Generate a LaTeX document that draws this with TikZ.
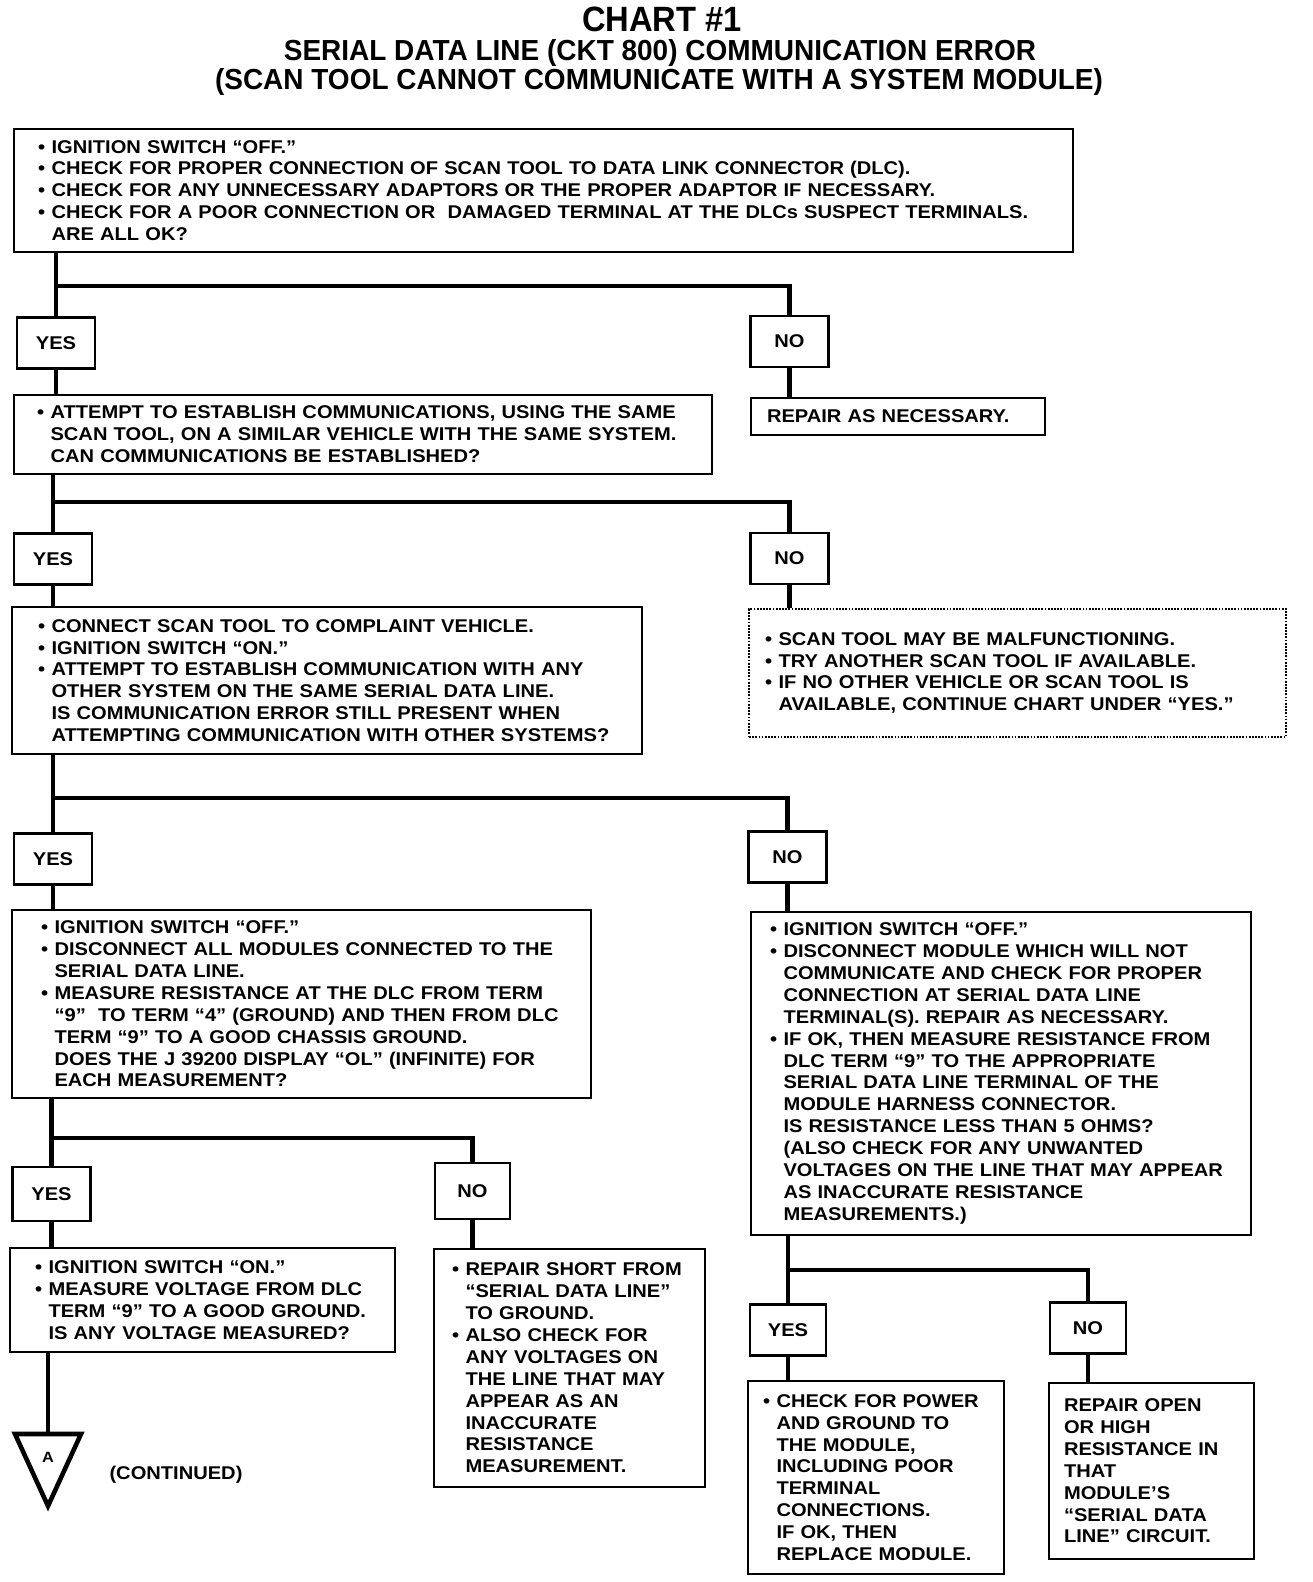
\documentclass[tikz,border=0pt]{standalone}
\usepackage{fontspec}
\setmainfont{Liberation Sans}
\newfontfamily\condfont[FakeStretch=0.93]{Liberation Sans}
\newfontfamily\subfont[FakeStretch=0.965]{Liberation Sans}
\newfontfamily\bodyfont[FakeStretch=1.09]{Liberation Sans}
\usetikzlibrary{positioning}

\newcommand{\bl}{\makebox[0.27cm][l]{\textbullet}}
\newcommand{\hg}{\hspace*{0.27cm}}

\begin{document}
\begin{tikzpicture}[x=0.02cm,y=-0.02cm,
    txt/.style={font=\bodyfont\fontsize{10.5}{12.45}\selectfont\bfseries},
    box/.style={txt,draw,line width=1.5pt,align=left,inner ysep=0pt},
    ans/.style={txt,draw,line width=1.5pt,inner sep=0pt},
    flow/.style={draw,line width=2.8pt}]
\useasboundingbox (0,0) rectangle (1312,1582);

% title
\node[font=\condfont\fontsize{20}{24}\selectfont\bfseries] (t1) at (662,19) {CHART \#1};
\node[font=\subfont\fontsize{16.5}{20}\selectfont\bfseries] (t2) at (660,53) {SERIAL DATA LINE (CKT 800) COMMUNICATION ERROR};
\node[font=\subfont\fontsize{16.5}{20}\selectfont\bfseries] (t3) at (659,82) {(SCAN TOOL CANNOT COMMUNICATE WITH A SYSTEM MODULE)};

% question and action boxes
\begin{scope}
    \node[box,inner xsep=0.48cm,text width=20.22cm,minimum height=2.46cm] (b1) at (543.5,190.5)
        {\bl IGNITION SWITCH “OFF.”\\
         \bl CHECK FOR PROPER CONNECTION OF SCAN TOOL TO DATA LINK CONNECTOR (DLC).\\
         \bl CHECK FOR ANY UNNECESSARY ADAPTORS OR THE PROPER ADAPTOR IF NECESSARY.\\
         \bl CHECK FOR A POOR CONNECTION OR\ \ DAMAGED TERMINAL AT THE DLCs SUSPECT TERMINALS.\\
         \hg ARE ALL OK?};
    \node[box,inner xsep=0.32cm,text width=5.24cm,minimum height=0.74cm] (rep1) at (898,416.5)
        {REPAIR AS NECESSARY.};
    \node[box,inner xsep=0.46cm,text width=13.04cm,minimum height=1.58cm] (b2) at (363,434.5)
        {\bl ATTEMPT TO ESTABLISH COMMUNICATIONS, USING THE SAME\\
         \hg SCAN TOOL, ON A SIMILAR VEHICLE WITH THE SAME SYSTEM.\\
         \hg CAN COMMUNICATIONS BE ESTABLISHED?};
    \node[box,line width=1.1pt,dash pattern=on 1pt off 0.8pt,inner xsep=0.32cm,text width=10.1cm,minimum height=2.56cm] (dot2) at (1017.5,673)
        {\bl SCAN TOOL MAY BE MALFUNCTIONING.\\
         \bl TRY ANOTHER SCAN TOOL IF AVAILABLE.\\
         \bl IF NO OTHER VEHICLE OR SCAN TOOL IS\\
         \hg AVAILABLE, CONTINUE CHART UNDER “YES.”};
    \node[box,inner xsep=0.52cm,text width=11.56cm,minimum height=2.94cm] (b3) at (327,680.5)
        {\bl CONNECT SCAN TOOL TO COMPLAINT VEHICLE.\\
         \bl IGNITION SWITCH “ON.”\\
         \bl ATTEMPT TO ESTABLISH COMMUNICATION WITH ANY\\
         \hg OTHER SYSTEM ON THE SAME SERIAL DATA LINE.\\
         \hg IS COMMUNICATION ERROR STILL PRESENT WHEN\\
         \hg ATTEMPTING COMMUNICATION WITH OTHER SYSTEMS?};
    \node[box,inner xsep=0.58cm,text width=10.42cm,minimum height=3.76cm] (b4) at (301.5,1004)
        {\bl IGNITION SWITCH “OFF.”\\
         \bl DISCONNECT ALL MODULES CONNECTED TO THE\\
         \hg SERIAL DATA LINE.\\
         \bl MEASURE RESISTANCE AT THE DLC FROM TERM\\
         \hg “9”\ \ TO TERM “4” (GROUND) AND THEN FROM DLC\\
         \hg TERM “9” TO A GOOD CHASSIS GROUND.\\
         \hg DOES THE J 39200 DISPLAY “OL” (INFINITE) FOR\\
         \hg EACH MEASUREMENT?};
    \node[box,inner xsep=0.38cm,text width=9.24cm,minimum height=6.46cm] (b4r) at (1001,1073.5)
        {\bl IGNITION SWITCH “OFF.”\\
         \bl DISCONNECT MODULE WHICH WILL NOT\\
         \hg COMMUNICATE AND CHECK FOR PROPER\\
         \hg CONNECTION AT SERIAL DATA LINE\\
         \hg TERMINAL(S). REPAIR AS NECESSARY.\\
         \bl IF OK, THEN MEASURE RESISTANCE FROM\\
         \hg DLC TERM “9” TO THE APPROPRIATE\\
         \hg SERIAL DATA LINE TERMINAL OF THE\\
         \hg MODULE HARNESS CONNECTOR.\\
         \hg IS RESISTANCE LESS THAN 5 OHMS?\\
         \hg (ALSO CHECK FOR ANY UNWANTED\\
         \hg VOLTAGES ON THE LINE THAT MAY APPEAR\\
         \hg AS INACCURATE RESISTANCE\\
         \hg MEASUREMENTS.)};
    \node[box,inner xsep=0.5cm,text width=6.7cm,minimum height=2.08cm] (b5) at (202.5,1300)
        {\bl IGNITION SWITCH “ON.”\\
         \bl MEASURE VOLTAGE FROM DLC\\
         \hg TERM “9” TO A GOOD GROUND.\\
         \hg IS ANY VOLTAGE MEASURED?};
    \node[box,inner xsep=0.36cm,text width=4.7cm,minimum height=4.76cm] (rep4) at (569.5,1368)
        {\bl REPAIR SHORT FROM\\
         \hg “SERIAL DATA LINE”\\
         \hg TO GROUND.\\
         \bl ALSO CHECK FOR\\
         \hg ANY VOLTAGES ON\\
         \hg THE LINE THAT MAY\\
         \hg APPEAR AS AN\\
         \hg INACCURATE\\
         \hg RESISTANCE\\
         \hg MEASUREMENT.};
    \node[box,inner xsep=0.3cm,text width=4.52cm,minimum height=3.86cm] (rep5y) at (876,1477.5)
        {\bl CHECK FOR POWER\\
         \hg AND GROUND TO\\
         \hg THE MODULE,\\
         \hg INCLUDING POOR\\
         \hg TERMINAL\\
         \hg CONNECTIONS.\\
         \hg IF OK, THEN\\
         \hg REPLACE MODULE.};
    \node[box,inner xsep=0.3cm,text width=3.5cm,minimum height=3.52cm] (rep5n) at (1151.5,1471)
        {REPAIR OPEN\\
         OR HIGH\\
         RESISTANCE IN\\
         THAT\\
         MODULE’S\\
         “SERIAL DATA\\
         LINE” CIRCUIT.};
\end{scope}

% yes / no boxes
\begin{scope}[every node/.style={ans,minimum width=1.56cm,minimum height=1.02cm}]
    \node (yes1) at (56,343) {YES};
    \node (no1) at (789.5,341.5) {NO};
    \node (yes2) at (53,559) {YES};
    \node (no2) at (789.5,558.5) {NO};
    \node (yes3) at (53,859) {YES};
    \node (no3) at (787.5,857) {NO};
    \node[minimum height=1.08cm] (yes4) at (51.5,1194) {YES};
    \node[minimum width=1.5cm,minimum height=1.12cm] (no4) at (472.5,1191) {NO};
    \node[minimum width=1.52cm] (yes5) at (788,1330) {YES};
    \node[minimum width=1.52cm] (no5) at (1088,1328) {NO};
\end{scope}

% branch levels
\coordinate (br1) at (0,286);
\coordinate (br2) at (0,502);
\coordinate (br3) at (0,798);
\coordinate (br4) at (0,1138);
\coordinate (br5) at (0,1270);
\coordinate (trA) at (48,1434);

\begin{scope}[every path/.style={flow}]
    \foreach \d/\y/\n/\r in {b1/yes1/no1/br1, b2/yes2/no2/br2, b3/yes3/no3/br3,
                             b4/yes4/no4/br4, b4r/yes5/no5/br5}
        \path (\y.north |- \d.south) -- (\y.north) (\y |- \r) -| (\n.north);
    \foreach \u/\v in {yes1/b2, no1/rep1, yes2/b3, no2/dot2, yes3/b4, no3/b4r,
                       yes4/b5, no4/rep4, yes5/rep5y, no5/rep5n}
        \path (\u.south) -- (\u.south |- \v.north);
    \path (b5.south -| trA) -- (trA);
\end{scope}

% continuation mark
\draw[line width=2.6pt,line join=miter] (trA) ++(-33,0) -- ++(66,0) -- ++(-33,72) -- cycle;
\node[font=\bodyfont\fontsize{8.5}{9}\selectfont\bfseries] (lblA) at (48,1457) {A};
\node[txt] (cont) at (176,1475) {(CONTINUED)};
\end{tikzpicture}
\end{document}
